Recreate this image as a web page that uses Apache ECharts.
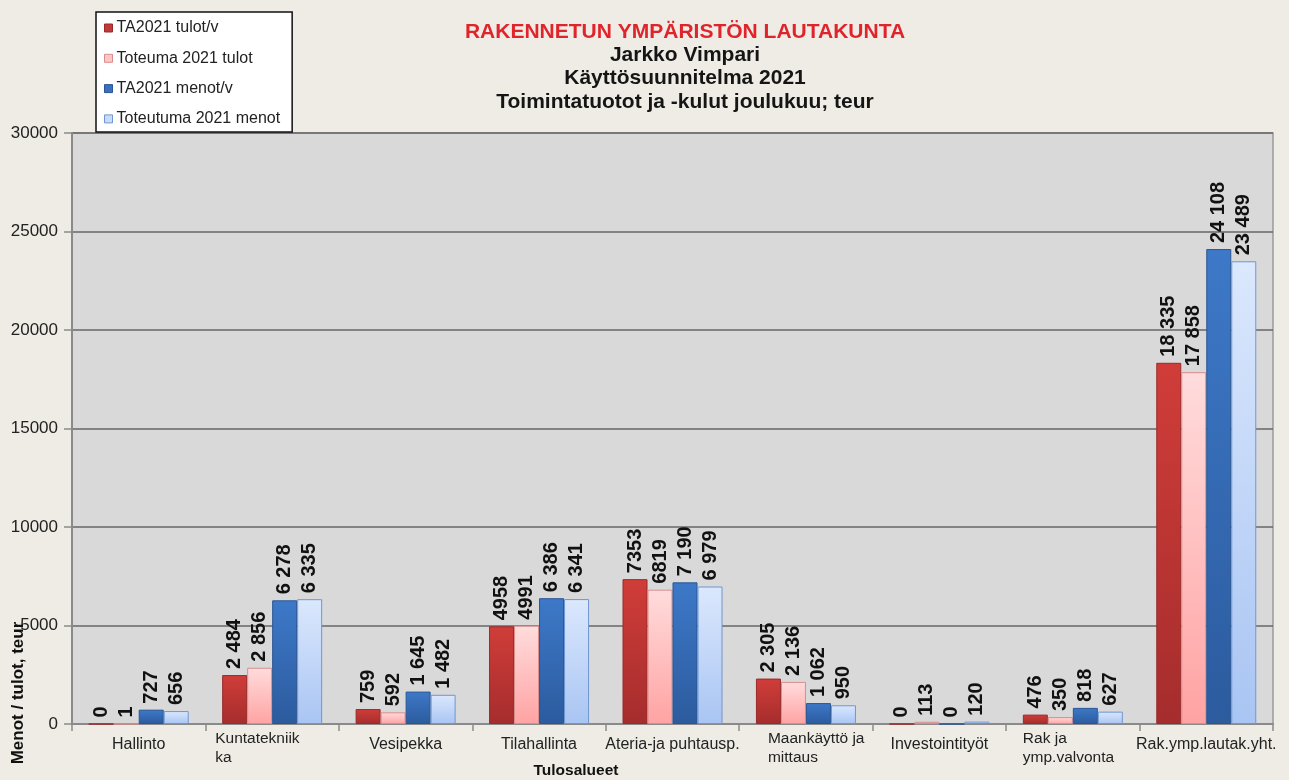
<!DOCTYPE html>
<html>
<head>
<meta charset="utf-8">
<script src="https://cdn.jsdelivr.net/npm/echarts@6/dist/echarts.min.js"></script>
<style>
html,body{margin:0;padding:0;background:#eeece4;}
#c{width:1289px;height:780px;}
</style>
</head>
<body>
<div id="c"></div>
<script>
// ---- data ----
const categories = ['Hallinto', 'Kuntatekniik\nka', 'Vesipekka', 'Tilahallinta', 'Ateria-ja puhtausp.', 'Maankäyttö ja\nmittaus', 'Investointityöt', 'Rak ja\nymp.valvonta', 'Rak.ymp.lautak.yht.'];
const seriesNames = ['TA2021 tulot/v', 'Toteuma 2021 tulot', 'TA2021 menot/v', 'Toteutuma 2021 menot'];
const taTulot = [0, 2484, 759, 4958, 7353, 2305, 0, 476, 18335];
const totTulot = [1, 2856, 592, 4991, 6819, 2136, 113, 350, 17858];
const taMenot = [727, 6278, 1645, 6386, 7190, 1062, 0, 818, 24108];
const totMenot = [656, 6335, 1482, 6341, 6979, 950, 120, 627, 23489];
const taTulotLabels = ['0', '2 484', '759', '4958', '7353', '2 305', '0', '476', '18 335'];
const totTulotLabels = ['1', '2 856', '592', '4991', '6819', '2 136', '113', '350', '17 858'];
const taMenotLabels = ['727', '6 278', '1 645', '6 386', '7 190', '1 062', '0', '818', '24 108'];
const totMenotLabels = ['656', '6 335', '1 482', '6 341', '6 979', '950', '120', '627', '23 489'];
const yTicks = [0, 5000, 10000, 15000, 20000, 25000, 30000];
const titleLines = ['RAKENNETUN YMPÄRISTÖN LAUTAKUNTA', 'Jarkko Vimpari', 'Käyttösuunnitelma 2021', 'Toimintatuotot ja -kulut joulukuu; teur'];
const xAxisTitle = 'Tulosalueet';
const yAxisTitle = 'Menot / tulot, teur';

// ---- styling ----
const FONT = '"Liberation Sans", Arial, sans-serif';
const styles = [
  {top: '#d03d39', bottom: '#a52d2d', border: '#9a2a2a', legend: '#c0393b'},
  {top: '#ffdcdc', bottom: '#ffa3a3', border: '#d98c8c', legend: '#ffc4c4'},
  {top: '#3d79c8', bottom: '#2c5b9e', border: '#2a5594', legend: '#3a70bd'},
  {top: '#dbe8fd', bottom: '#a9c5f3', border: '#6f96d0', legend: '#c8dcfa'}
];
const values = [taTulot, totTulot, taMenot, totMenot];
const labelTexts = [taTulotLabels, totTulotLabels, taMenotLabels, totMenotLabels];
// rich style used for each wrapped category label (keyed by first line)
const wrapStyle = {'Kuntatekniik': 'k', 'Maankäyttö ja': 'm', 'Rak ja': 'r'};

const chart = echarts.init(document.getElementById('c'), null, {renderer: 'canvas'});

const series = values.map((vals, i) => ({
  name: seriesNames[i],
  type: 'bar',
  barWidth: 25,
  barGap: '0%',
  data: vals,
  itemStyle: {
    color: new echarts.graphic.LinearGradient(0, 0, 0, 1, [
      {offset: 0, color: styles[i].top},
      {offset: 1, color: styles[i].bottom}
    ]),
    borderColor: styles[i].border,
    borderWidth: 1
  },
  label: {
    show: true,
    position: 'top',
    rotate: 90,
    align: 'left',
    verticalAlign: 'middle',
    distance: 6,
    fontSize: 20,
    fontWeight: 'bold',
    fontFamily: FONT,
    color: '#111',
    formatter: p => labelTexts[i][p.dataIndex]
  }
}));

const titleTops = [22, 45, 68, 92];
const titles = titleLines.map((t, i) => ({
  text: t,
  left: 685,
  textAlign: 'center',
  top: titleTops[i],
  padding: 0,
  textStyle: {
    fontSize: 21,
    fontWeight: 'bold',
    fontFamily: FONT,
    color: i === 0 ? '#e0242c' : '#151515'
  }
}));

const wrapBase = {align: 'left', fontSize: 15.5, lineHeight: 19, fontFamily: FONT, color: '#222'};

chart.setOption({
  backgroundColor: '#eeece4',
  animation: false,
  title: titles,
  legend: {
    orient: 'vertical',
    left: 96,
    top: 12,
    backgroundColor: '#ffffff',
    borderColor: '#111',
    borderWidth: 1.5,
    borderRadius: 0,
    padding: [8, 12, 5, 8],
    itemGap: 14.3,
    itemWidth: 8,
    itemHeight: 8,
    icon: 'rect',
    textStyle: {fontSize: 16, fontFamily: FONT, color: '#222', padding: [0, 0, 0, -1]},
    data: seriesNames.map((n, i) => ({
      name: n,
      itemStyle: {color: styles[i].legend, borderColor: styles[i].border, borderWidth: 1}
    }))
  },
  grid: {
    left: 72, right: 16, top: 133, bottom: 56,
    show: true,
    backgroundColor: '#d9d9d9',
    borderColor: '#9a9a9a',
    borderWidth: 1.5
  },
  xAxis: {
    type: 'category',
    data: categories,
    axisLine: {show: true, lineStyle: {color: '#8a8a8a', width: 2}},
    axisTick: {show: true, length: 7, lineStyle: {color: '#8a8a8a', width: 1.5}},
    axisLabel: {
      interval: 0,
      margin: 5,
      fontSize: 16,
      fontFamily: FONT,
      color: '#222',
      formatter: v => {
        const parts = v.split('\n');
        if (parts.length === 1) return '{s|' + v + '}';
        const key = wrapStyle[parts[0]];
        return parts.map(p => '{' + key + '|' + p + '}').join('\n');
      },
      rich: {
        s: {fontSize: 16, lineHeight: 32, fontFamily: FONT, color: '#222'},
        k: Object.assign({width: 114}, wrapBase),
        m: Object.assign({width: 100, padding: [0, 0, 0, 24]}, wrapBase),
        r: Object.assign({width: 100}, wrapBase)
      }
    }
  },
  yAxis: {
    type: 'value',
    min: yTicks[0],
    max: yTicks[yTicks.length - 1],
    interval: yTicks[1] - yTicks[0],
    axisLine: {show: true, lineStyle: {color: '#8a8a8a', width: 2}},
    axisTick: {show: true, length: 8, lineStyle: {color: '#8a8a8a', width: 1.5}},
    axisLabel: {fontSize: 17, fontFamily: FONT, color: '#222', margin: 14, formatter: v => String(v)},
    splitLine: {show: true, lineStyle: {color: '#666', width: 1.5}}
  },
  graphic: [
    {
      type: 'text',
      x: 576, y: 771,
      style: {
        text: xAxisTitle, fontSize: 15.5, fontWeight: 'bold', fontFamily: FONT,
        fill: '#111', align: 'center', verticalAlign: 'middle'
      }
    },
    {
      type: 'text',
      x: 18, y: 693,
      rotation: Math.PI / 2,
      style: {
        text: yAxisTitle, fontSize: 17, fontWeight: 'bold', fontFamily: FONT,
        fill: '#111', align: 'center', verticalAlign: 'middle'
      }
    }
  ],
  series: series
});
</script>
</body>
</html>
